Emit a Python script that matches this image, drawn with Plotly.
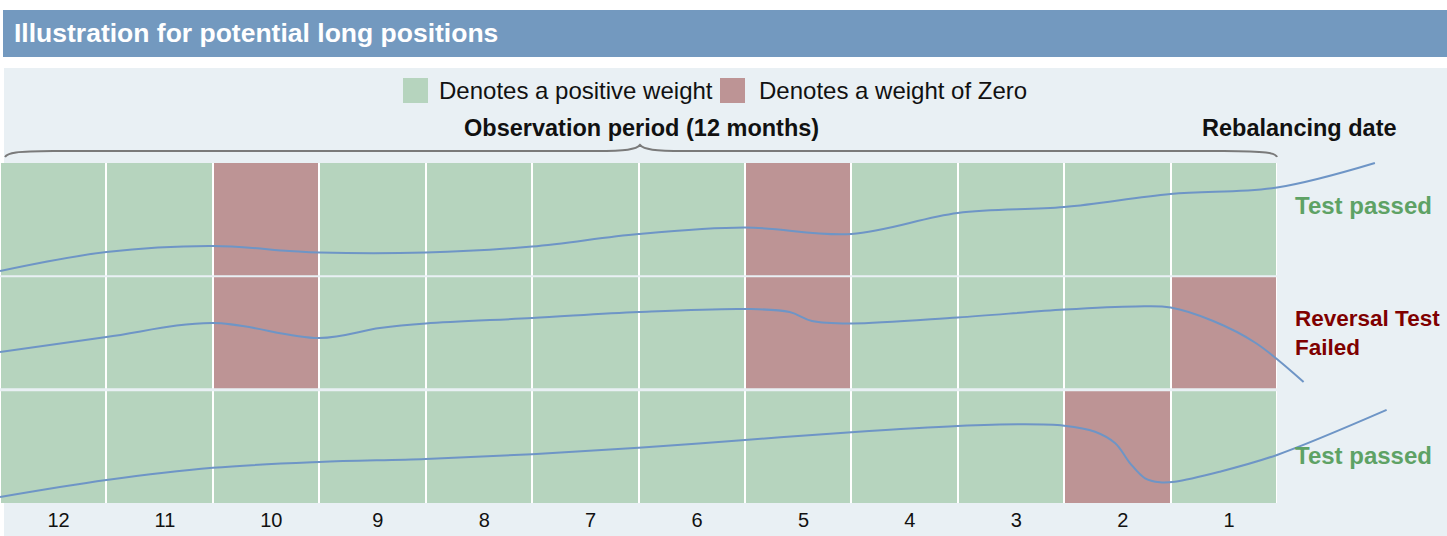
import plotly.graph_objects as go

# ---------------- data ----------------
months = ["12", "11", "10", "9", "8", "7", "6", "5", "4", "3", "2", "1"]
# 1 = positive weight, 0 = weight of zero (left = month 12, right = month 1)
row1_weights = [1, 1, 0, 1, 1, 1, 1, 0, 1, 1, 1, 1]
row2_weights = [1, 1, 0, 1, 1, 1, 1, 0, 1, 1, 1, 0]
row3_weights = [1, 1, 1, 1, 1, 1, 1, 1, 1, 1, 0, 1]

# illustrative price paths (x in month-column units, y in row units)
line1_x = [0, 1.0, 2.0, 2.72, 3.0, 4.0, 5.0, 6.0, 7.0, 8.0, 9.0, 10.0, 11.0, 12.0, 12.92]
line1_y = [2.047, 2.215, 2.268, 2.224, 2.210, 2.210, 2.263, 2.374, 2.431, 2.374, 2.559, 2.612, 2.727, 2.784, 3.000]

line2_x = [0, 1.0, 2.0, 3.0, 3.57, 4.0, 5.0, 6.0, 7.0, 7.42, 7.63, 8.0, 9.0, 10.0, 10.67, 11.0, 11.40, 11.80, 12.25]
line2_y = [1.332, 1.465, 1.588, 1.456, 1.544, 1.584, 1.632, 1.685, 1.712, 1.685, 1.606, 1.584, 1.637, 1.707, 1.734, 1.725, 1.606, 1.412, 1.068]

line3_x = [0, 1.0, 2.0, 3.0, 4.0, 5.0, 6.0, 7.0, 8.0, 9.0, 9.585, 10.0, 10.29, 10.48, 10.62, 10.76, 10.90, 11.04, 11.46, 12.0, 13.03]
line3_y = [0.053, 0.203, 0.311, 0.362, 0.388, 0.430, 0.488, 0.556, 0.624, 0.679, 0.694, 0.682, 0.629, 0.527, 0.350, 0.218, 0.183, 0.188, 0.276, 0.424, 0.821]

row_outcomes = ["Test passed", "Reversal Test<br>Failed", "Test passed"]
outcome_colors = ["#5EA265", "#7F0000", "#5EA265"]

# ---------------- layout geometry ----------------
W, H = 1447, 536
MT, MB = 68, 33
PH = H - MT - MB
COL = 1277 / 12.0
ROW = 340 / 3.0
FONT = "Liberation Sans, Arial, sans-serif"

GREEN = "#B6D4BE"
RED = "#BD9495"
BG = "#E9F0F4"
BLUE_BAR = "#7399BF"
LINE = "#6E95C6"


def pxx(px):
    return px / W


def pxy(py):
    return (H - MB - py) / PH


fig = go.Figure()

fig.add_trace(go.Heatmap(
    z=[row3_weights, row2_weights, row1_weights],
    x=[i + 0.5 for i in range(12)],
    y=[0.5, 1.5, 2.5],
    colorscale=[[0, RED], [1, GREEN]],
    zmin=0, zmax=1, xgap=2, ygap=0,
    showscale=False, hoverinfo="skip",
))

for lx, ly in [(line1_x, line1_y), (line2_x, line2_y), (line3_x, line3_y)]:
    fig.add_trace(go.Scatter(
        x=lx, y=ly, mode="lines",
        line=dict(color=LINE, width=2, shape="spline", smoothing=1.0),
        hoverinfo="skip", showlegend=False,
    ))

shapes = [
    # page background
    dict(type="rect", xref="paper", yref="paper", x0=pxx(4), x1=1, y0=pxy(H), y1=pxy(68),
         fillcolor=BG, line=dict(width=0), layer="below"),
    # title bar
    dict(type="rect", xref="paper", yref="paper", x0=pxx(3), x1=1, y0=pxy(57), y1=pxy(10),
         fillcolor=BLUE_BAR, line=dict(width=0), layer="below"),
    # white backing for the grid (column separators)
    dict(type="rect", xref="x", yref="y", x0=0, x1=12, y0=0, y1=3,
         fillcolor="white", line=dict(width=0), layer="below"),
    # row separators
    dict(type="line", xref="x", yref="y", x0=0, x1=12, y0=2, y1=2,
         line=dict(color=BG, width=2), layer="above"),
    dict(type="line", xref="x", yref="y", x0=0, x1=12, y0=1, y1=1,
         line=dict(color=BG, width=3), layer="above"),
    # legend squares
    dict(type="rect", xref="paper", yref="paper", x0=pxx(403), x1=pxx(428), y0=pxy(103), y1=pxy(78),
         fillcolor=GREEN, line=dict(width=0)),
    dict(type="rect", xref="paper", yref="paper", x0=pxx(720), x1=pxx(745), y0=pxy(103), y1=pxy(78),
         fillcolor=RED, line=dict(width=0)),
    # brace over observation period
    dict(type="path", xref="x", yref="y",
         path=("M 0.047,3.053 C 0.07,3.092 0.15,3.104 0.5,3.106 L 5.6,3.106 "
               "C 5.88,3.107 5.98,3.118 6.014,3.159 C 6.05,3.118 6.15,3.107 6.43,3.106 "
               "L 11.5,3.106 C 11.9,3.104 11.99,3.09 12.0,3.053"),
         line=dict(color="#7A7A7A", width=2)),
]

annotations = [
    dict(xref="paper", yref="paper", x=pxx(12), y=pxy(33.5), xanchor="left", yanchor="middle",
         text="<b>Illustration for potential long positions</b>", showarrow=False,
         font=dict(family=FONT, size=26.5, color="white")),
    dict(xref="paper", yref="paper", x=pxx(437), y=pxy(91), xanchor="left", yanchor="middle",
         text="Denotes a positive weight", showarrow=False,
         font=dict(family=FONT, size=24, color="#111111")),
    dict(xref="paper", yref="paper", x=pxx(757), y=pxy(91), xanchor="left", yanchor="middle",
         text="Denotes a weight of Zero", showarrow=False,
         font=dict(family=FONT, size=24, color="#111111")),
    dict(xref="paper", yref="paper", x=pxx(641), y=pxy(128), xanchor="center", yanchor="middle",
         text="<b>Observation period (12 months)</b>", showarrow=False,
         font=dict(family=FONT, size=23.5, color="#111111")),
    dict(xref="paper", yref="paper", x=pxx(1200), y=pxy(128), xanchor="left", yanchor="middle",
         text="<b>Rebalancing date</b>", showarrow=False,
         font=dict(family=FONT, size=23.5, color="#111111")),
]

outcome_py = [205, 332.5, 455]
outcome_size = [24, 22.5, 24]
for txt, col, py, fs in zip(row_outcomes, outcome_colors, outcome_py, outcome_size):
    annotations.append(dict(
        xref="paper", yref="paper", x=pxx(1293), y=pxy(py), xanchor="left", yanchor="middle",
        align="left", text=f"<b>{txt}</b>", showarrow=False,
        font=dict(family=FONT, size=fs, color=col)))

fig.update_layout(
    width=W, height=H,
    margin=dict(l=0, r=0, t=MT, b=MB, pad=0),
    paper_bgcolor="white",
    plot_bgcolor="rgba(0,0,0,0)",
    showlegend=False,
    shapes=shapes,
    annotations=annotations,
    xaxis=dict(range=[0, W / COL], tickmode="array",
               tickvals=[i + 0.55 for i in range(12)], ticktext=months,
               tickfont=dict(family=FONT, size=20, color="#111111"),
               ticklabelstandoff=3,
               showgrid=False, zeroline=False, showline=False, ticks="",
               fixedrange=True),
    yaxis=dict(range=[0, PH / ROW], showgrid=False, zeroline=False,
               showline=False, showticklabels=False, ticks="", fixedrange=True),
)

fig.write_html("out.html", config={"displayModeBar": False},
               post_script="document.body.style.margin='0px';")
